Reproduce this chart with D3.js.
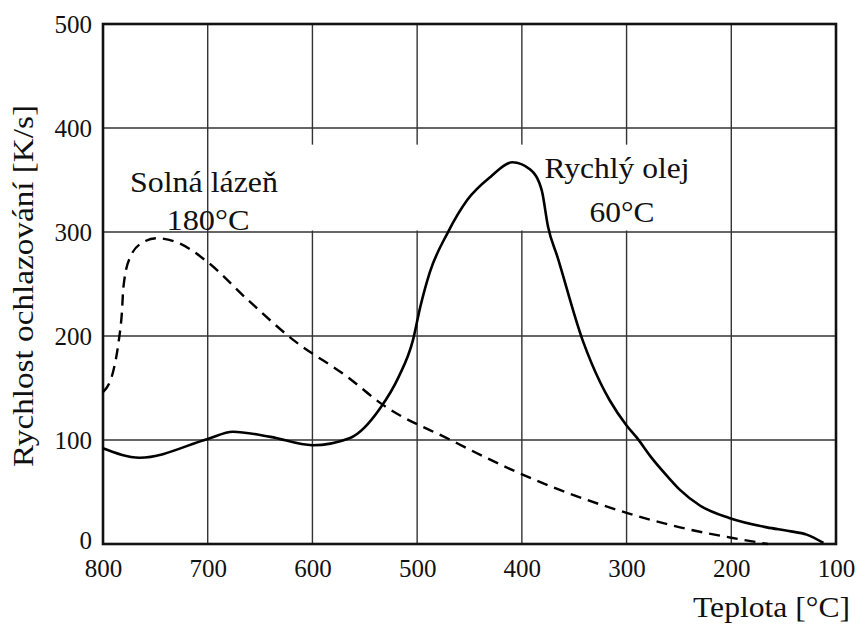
<!DOCTYPE html>
<html>
<head>
<meta charset="utf-8">
<script src="https://cdn.jsdelivr.net/npm/d3@7"></script>
<style>
  body { margin: 0; background: #fff; }
  svg text { font-family: "Liberation Serif", "Times New Roman", "DejaVu Serif", serif; fill: #111; }
</style>
</head>
<body>
<div id="chart"></div>
<script>
// Rychly olej 60 C (solid)
const oilTemp = [800, 765, 700, 676, 640, 600, 564, 535, 518, 504, 497, 488, 471, 452, 430, 409, 392, 381, 375, 366, 342, 325, 316, 300, 290, 277, 261, 249, 230, 202, 166, 145, 128, 112]
const oilRate = [92, 83, 101, 108, 103, 95, 102, 131, 160, 196, 228, 261, 299, 331, 353, 367, 360, 340, 305, 276, 196, 155, 138, 114, 102, 84, 65, 52, 37, 25, 16, 12.5, 9, 1]

// Solna lazen 180 C (dashed)
const saltTemp = [800, 790, 785, 782, 780.5, 774, 762, 749, 729, 700, 662, 618, 567, 533, 468, 411, 356, 300, 249, 200, 165]
const saltRate = [146, 167, 195, 222, 247, 276, 290, 294, 290, 271, 235, 196, 161, 134, 100, 72, 49, 30, 16, 6, 0]

const xTicks = [800, 700, 600, 500, 400, 300, 200, 100]
const yTicks = [0, 100, 200, 300, 400, 500]

const width = 856
const height = 624
const margin = { top: 24, right: 20, bottom: 80, left: 103 }
const serif = "Liberation Serif, Times New Roman, serif"

const svg = d3.select("#chart")
  .append("svg")
    .attr("width", width)
    .attr("height", height)

const x = d3.scaleLinear()
  .domain([800, 100])
  .range([margin.left, width - margin.right])

const y = d3.scaleLinear()
  .domain([0, 500])
  .range([height - margin.bottom, margin.top])

// grid
svg.append("g")
  .attr("stroke", "#333")
  .attr("stroke-width", 1.4)
  .call(g => g.selectAll("line.v")
    .data(xTicks)
    .join("line")
      .attr("class", "v")
      .attr("x1", d => x(d)).attr("x2", d => x(d))
      .attr("y1", y(0)).attr("y2", y(500)))
  .call(g => g.selectAll("line.h")
    .data(yTicks)
    .join("line")
      .attr("class", "h")
      .attr("x1", x(800)).attr("x2", x(100))
      .attr("y1", d => y(d)).attr("y2", d => y(d)))

// white boxes behind annotations (they hide the grid there)
const boxes = [
  { x0: 365, x1: 610, top: 384, bot: 300 },
  { x0: 355, x1: 205, top: 384, bot: 300 }
]
svg.append("g")
  .selectAll("rect")
  .data(boxes)
  .join("rect")
    .attr("x", d => Math.min(x(d.x0), x(d.x1)))
    .attr("width", d => Math.abs(x(d.x1) - x(d.x0)))
    .attr("y", d => y(d.top))
    .attr("height", d => y(d.bot) - y(d.top) - 1.5)
    .attr("fill", "#fff")

// frame
svg.append("rect")
  .attr("x", x(800))
  .attr("y", y(500))
  .attr("width", x(100) - x(800))
  .attr("height", y(0) - y(500))
  .attr("fill", "none")
  .attr("stroke", "#111")
  .attr("stroke-width", 2.6)

// tick labels
const xAxis = d3.axisBottom(x).tickValues(xTicks).tickSize(0).tickPadding(15)
svg.append("g")
  .attr("transform", `translate(0,${y(0)})`)
  .call(xAxis)
  .call(g => g.select(".domain").remove())
  .call(g => g.selectAll("text")
    .style("font-size", "25px")
    .style("font-family", serif)
    .attr("fill", "#111"))

const yAxis = d3.axisLeft(y).tickValues(yTicks).tickSize(0).tickPadding(11)
svg.append("g")
  .attr("transform", `translate(${x(800)},0)`)
  .call(yAxis)
  .call(g => g.select(".domain").remove())
  .call(g => g.selectAll("text")
    .style("font-size", "25px")
    .style("font-family", serif)
    .attr("fill", "#111")
    .attr("dy", d => d === 0 ? "0.18em" : "0.32em"))

// curves
const line = d3.line()
  .curve(d3.curveMonotoneX)
  .x(d => x(d[0]))
  .y(d => y(d[1]))

svg.append("path")
  .attr("d", line(d3.zip(oilTemp, oilRate)))
  .attr("fill", "none")
  .attr("stroke", "#000")
  .attr("stroke-width", 2.6)

svg.append("path")
  .attr("d", line(d3.zip(saltTemp, saltRate)))
  .attr("fill", "none")
  .attr("stroke", "#000")
  .attr("stroke-width", 2.4)
  .attr("stroke-dasharray", "11,7")

// annotations
function label(tx, ty, str, size, len, anchor) {
  const t = svg.append("text")
    .attr("x", tx).attr("y", ty)
    .attr("text-anchor", anchor || "middle")
    .style("font-size", size + "px")
    .style("font-family", serif)
    .text(str)
  if (len) t.attr("textLength", len).attr("lengthAdjust", "spacingAndGlyphs")
  return t
}

label(204, 192, "Solná lázeň", 30, 148)
label(208, 230, "180°C", 30, 83)
label(617, 178, "Rychlý olej", 30, 145)
label(622, 222, "60°C", 30, 65)
label(850, 617, "Teplota [°C]", 30, 157, "end")

svg.append("text")
  .attr("transform", "translate(33,286) rotate(-90)")
  .attr("text-anchor", "middle")
  .style("font-size", "29px")
  .style("font-family", serif)
  .attr("textLength", 362)
  .attr("lengthAdjust", "spacingAndGlyphs")
  .text("Rychlost ochlazování [K/s]")
</script>
</body>
</html>
